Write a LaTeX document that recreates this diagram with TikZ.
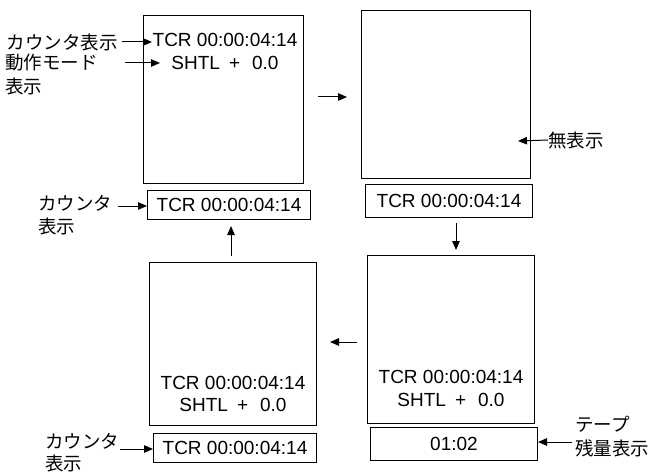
\documentclass[tikz,border=0pt]{standalone}
\usepackage{fontspec}
\setmainfont{Liberation Sans}
\newfontfamily\jp{Noto Sans CJK JP}
\usetikzlibrary{arrows.meta}
\newcommand{\shtl}{SHTL\hspace{9pt}+\hspace{12pt}0.0}
\begin{document}
\begin{tikzpicture}[x=1pt,y=-1pt,
  screen/.style={draw, line width=1pt, inner sep=0pt, anchor=north west},
  ctrbox/.style={draw, line width=1pt, inner sep=0pt, anchor=north west, font=\fontsize{19}{19}\selectfont},
  lcd/.style={inner sep=0pt, font=\fontsize{19}{19}\selectfont},
  jl/.style={inner sep=0pt, font=\jp\fontsize{18.5}{18.5}\selectfont},
  arr/.style={-{Triangle[length=9pt,width=7.5pt]}, line width=1pt}]
\useasboundingbox (0,0) rectangle (650,473);
% screens
\node[screen, minimum width=160pt, minimum height=168pt] (s1) at (143,15) {};
\node[screen, minimum width=169pt, minimum height=168pt] (s2) at (361,10) {};
\node[screen, minimum width=167pt, minimum height=163pt] (s3) at (149,262) {};
\node[screen, minimum width=167pt, minimum height=168pt] (s4) at (367,255) {};
% counter boxes
\node[ctrbox, minimum width=163pt, minimum height=29pt] (c1) at (147,190) {TCR 00:00:04:14};
\node[ctrbox, minimum width=167pt, minimum height=33pt] (c2) at (365,184) {TCR 00:00:04:14};
\node[ctrbox, minimum width=163pt, minimum height=29pt] (c3) at (153,433) {TCR 00:00:04:14};
\node[ctrbox, minimum width=167pt, minimum height=33pt] (c4) at (370,427) {01:02};
% screen texts
\node[lcd] (t1a) at (225,40) {TCR 00:00:04:14};
\node[lcd] (t1b) at (225,63) {\shtl};
\node[lcd] (t3a) at (233,383) {TCR 00:00:04:14};
\node[lcd] (t3b) at (233,405) {\shtl};
\node[lcd] (t4a) at (451,377) {TCR 00:00:04:14};
\node[lcd] (t4b) at (451,400) {\shtl};
% labels
\node[jl, anchor=east] (l1) at (118,42) {カウンタ表示};
\node[jl, anchor=west] (l2) at (5,63) {動作モード};
\node[jl, anchor=west] (l2b) at (5,86) {表示};
\node[jl, anchor=west] (l3) at (38,203) {カウンタ};
\node[jl, anchor=west] (l3b) at (38,226) {表示};
\node[jl, anchor=west] (l5) at (548,140) {無表示};
\node[jl, anchor=west] (l4) at (45,441) {カウンタ};
\node[jl, anchor=west] (l4b) at (45,463) {表示};
\node[jl, anchor=west] (l6) at (575,424) {テープ};
\node[jl, anchor=west] (l6b) at (575,448) {残量表示};
% label arrows
\coordinate (p1) at (152,42);
\coordinate (p2) at (160,63);
\coordinate (p5) at (518,141);
\draw[arr] (l1.east) ++(4,0) -- (p1);
\draw[arr] (125,63) -- (p2);
\draw[arr] (118,206) -- (c1.west |- 0,206);
\draw[arr] (l5.west) -- (p5);
\draw[arr] (120,449) -- (c3.west |- 0,449);
\draw[arr] (572,442) -- (c4.east |- 0,442);
% flow arrows
\draw[arr] (318,97) -- (347,97);
\draw[arr] (c2.south -| 456,0) ++(0,5) -- (456,250);
\draw[arr] (357,342) -- (330,342);
\draw[arr] (231,256) -- (231,226);
\end{tikzpicture}
\end{document}
